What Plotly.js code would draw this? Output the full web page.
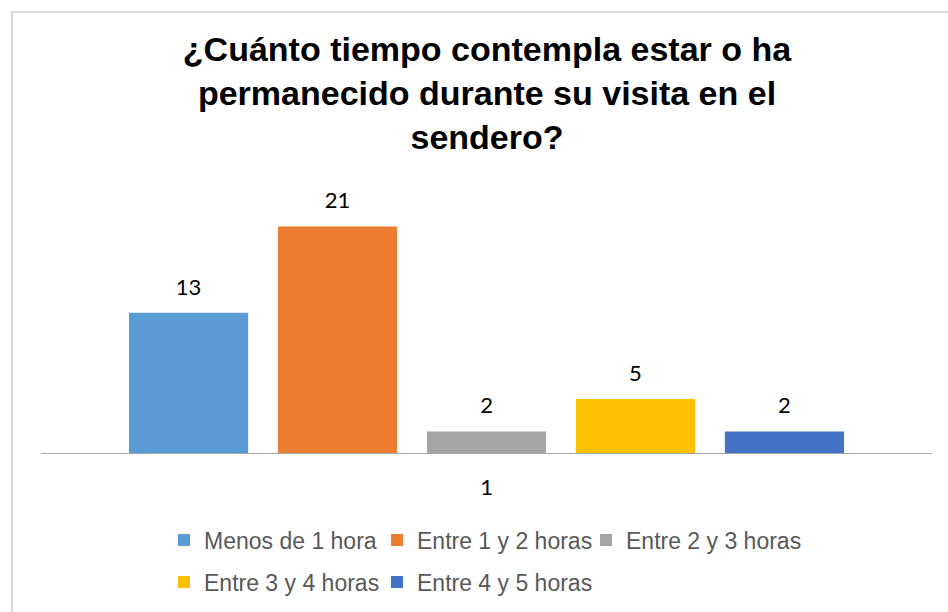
<!DOCTYPE html>
<html>
<head>
<meta charset="utf-8">
<script src="https://cdn.plot.ly/plotly-3.0.1.min.js"></script>
<style>
html,body{margin:0;padding:0;background:#fff;}
#frame{position:absolute;left:11px;top:11px;width:1000px;height:1000px;border-left:2px solid #d9d9d9;border-top:2px solid #d9d9d9;}
#chart{position:absolute;left:0;top:0;width:948px;height:612px;}
</style>
</head>
<body>
<div id="frame"></div>
<div id="chart"></div>
<script>
const categories = ["1"];
const seriesNames = ["Menos de 1 hora", "Entre 1 y 2 horas", "Entre 2 y 3 horas", "Entre 3 y 4 horas", "Entre 4 y 5 horas"];
const seriesValues = [13, 21, 2, 5, 2];
const seriesColors = ["#5B9BD5", "#ED7D31", "#A5A5A5", "#FFC000", "#4472C4"];
const titleText = "¿Cuánto tiempo contempla estar o ha<br>permanecido durante su visita en el<br>sendero?";

// legend text start positions (px) and row centers
const legendTextX = [204, 417, 626, 204, 417];
const legendRowY = [540, 540, 540, 582, 582];

const L = 41, R = 16, T = 194, B = 159, W = 948, H = 612;
const pw = W - L - R, ph = H - T - B;

const traces = seriesNames.map((name, i) => ({
  type: 'bar',
  name: name,
  x: categories,
  y: [seriesValues[i]],
  marker: {color: seriesColors[i]},
  textposition: 'outside',
  texttemplate: "<span style='font-size:22px'>%{y}</span><br>\u00a0",
  textfont: {family: 'Lato, Liberation Sans, sans-serif', size: 10, color: '#000000'},
  cliponaxis: false,
  hoverinfo: 'none',
  legend: i === 0 ? 'legend' : 'legend' + (i + 1)
}));

const layout = {
  width: W, height: H,
  paper_bgcolor: 'rgba(0,0,0,0)',
  plot_bgcolor: 'rgba(0,0,0,0)',
  margin: {l: L, r: R, t: T, b: B, autoexpand: false},
  barmode: 'group',
  bargap: 0.164,
  bargroupgap: 0.2,
  title: {
    text: titleText,
    font: {family: 'Liberation Sans, Arial, sans-serif', size: 34, color: '#000000', weight: 'bold'},
    x: 487 / W, xanchor: 'center',
    y: 1 - 61 / H, yanchor: 'top', yref: 'container'
  },
  xaxis: {
    type: 'category',
    range: [-0.5, 0.5],
    showgrid: false,
    zeroline: false,
    showline: true,
    linecolor: '#a6a6a6',
    linewidth: 1,
    ticks: '',
    ticklabelstandoff: 15,
    tickfont: {family: 'Lato, Liberation Sans, sans-serif', size: 22, color: '#000000'},
    fixedrange: true
  },
  yaxis: {
    range: [0, 24],
    visible: false,
    showgrid: false,
    zeroline: false,
    fixedrange: true
  },
  showlegend: true
};

seriesNames.forEach((n, i) => {
  const key = i === 0 ? 'legend' : 'legend' + (i + 1);
  layout[key] = {
    orientation: 'h',
    x: (legendTextX[i] - 40 - L) / pw,
    xanchor: 'left',
    y: (H - B - legendRowY[i]) / ph,
    yanchor: 'middle',
    font: {family: 'Liberation Sans, Arial, sans-serif', size: 23, color: '#595959'},
    bgcolor: 'rgba(0,0,0,0)',
    borderwidth: 0,
    itemclick: false,
    itemdoubleclick: false
  };
});

Plotly.newPlot('chart', traces, layout, {displayModeBar: false, staticPlot: true});
</script>
</body>
</html>
